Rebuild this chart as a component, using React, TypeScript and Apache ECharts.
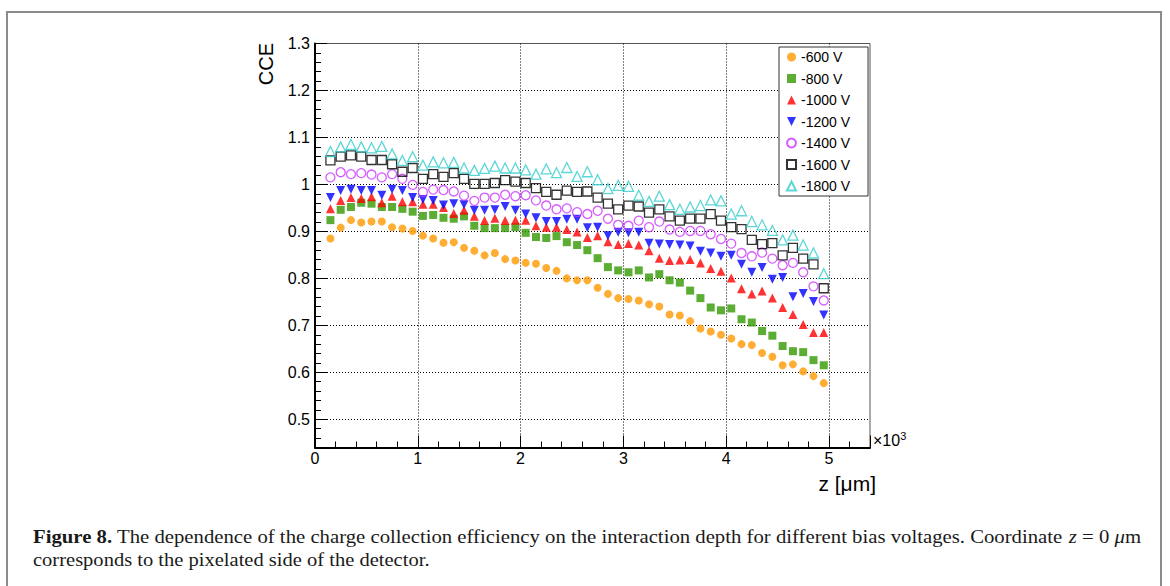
import React, { useEffect, useRef } from 'react';
import * as echarts from 'echarts';

// depth z in units of 10^3 um
const zValues = [
  0.15, 0.25, 0.35, 0.45, 0.55, 0.65, 0.75, 0.85, 0.95, 1.05,
  1.15, 1.25, 1.35, 1.45, 1.55, 1.65, 1.75, 1.85, 1.95, 2.05,
  2.15, 2.25, 2.35, 2.45, 2.55, 2.65, 2.75, 2.85, 2.95, 3.05,
  3.15, 3.25, 3.35, 3.45, 3.55, 3.65, 3.75, 3.85, 3.95, 4.05,
  4.15, 4.25, 4.35, 4.45, 4.55, 4.65, 4.75, 4.85, 4.95,
];

const cce600 = [
  0.885, 0.908, 0.924, 0.919, 0.921, 0.921, 0.909, 0.906, 0.901, 0.891,
  0.885, 0.876, 0.877, 0.865, 0.859, 0.849, 0.854, 0.841, 0.838, 0.833,
  0.831, 0.822, 0.816, 0.800, 0.796, 0.796, 0.780, 0.767, 0.758, 0.756,
  0.753, 0.745, 0.740, 0.723, 0.721, 0.709, 0.693, 0.687, 0.680, 0.672,
  0.660, 0.658, 0.641, 0.633, 0.615, 0.617, 0.602, 0.592, 0.577,
];
const cce800 = [
  0.924, 0.946, 0.952, 0.961, 0.959, 0.952, 0.952, 0.948, 0.942, 0.933,
  0.935, 0.929, 0.927, 0.932, 0.912, 0.907, 0.907, 0.907, 0.909, 0.897,
  0.888, 0.886, 0.890, 0.877, 0.871, 0.860, 0.843, 0.824, 0.817, 0.813,
  0.817, 0.802, 0.809, 0.796, 0.791, 0.774, 0.758, 0.738, 0.732, 0.736,
  0.713, 0.706, 0.688, 0.678, 0.656, 0.645, 0.643, 0.626, 0.615,
];
const cce1000 = [
  0.948, 0.966, 0.972, 0.970, 0.974, 0.961, 0.975, 0.963, 0.963, 0.958,
  0.958, 0.951, 0.938, 0.945, 0.932, 0.923, 0.928, 0.923, 0.924, 0.924,
  0.912, 0.909, 0.909, 0.904, 0.899, 0.887, 0.891, 0.878, 0.872, 0.874,
  0.871, 0.859, 0.843, 0.838, 0.839, 0.840, 0.833, 0.821, 0.815, 0.801,
  0.778, 0.767, 0.773, 0.758, 0.738, 0.723, 0.702, 0.685, 0.685,
];
const cce1200 = [
  0.972, 0.987, 0.990, 0.987, 0.987, 0.977, 0.990, 0.987, 0.972, 0.968,
  0.966, 0.956, 0.959, 0.957, 0.945, 0.945, 0.946, 0.953, 0.945, 0.937,
  0.929, 0.921, 0.921, 0.926, 0.926, 0.908, 0.909, 0.891, 0.898, 0.897,
  0.898, 0.875, 0.873, 0.872, 0.871, 0.869, 0.858, 0.854, 0.847, 0.849,
  0.830, 0.813, 0.823, 0.798, 0.802, 0.761, 0.768, 0.751, 0.722,
];
const cce1400 = [
  1.015, 1.026, 1.022, 1.024, 1.021, 1.015, 1.022, 1.012, 0.999, 0.984,
  0.989, 0.988, 0.985, 0.976, 0.965, 0.972, 0.972, 0.978, 0.975, 0.977,
  0.966, 0.955, 0.947, 0.949, 0.941, 0.937, 0.944, 0.927, 0.914, 0.912,
  0.923, 0.909, 0.921, 0.904, 0.899, 0.901, 0.901, 0.894, 0.884, 0.874,
  0.854, 0.847, 0.855, 0.842, 0.828, 0.833, 0.813, 0.783, 0.753,
];
const cce1600 = [
  1.051, 1.059, 1.062, 1.059, 1.052, 1.052, 1.043, 1.027, 1.035, 1.012,
  1.022, 1.016, 1.024, 1.012, 1.001, 1.001, 1.003, 1.009, 1.006, 1.003,
  0.992, 0.984, 0.978, 0.987, 0.984, 0.985, 0.972, 0.959, 0.947, 0.955,
  0.953, 0.940, 0.947, 0.932, 0.923, 0.927, 0.927, 0.937, 0.923, 0.909,
  0.905, 0.882, 0.873, 0.875, 0.849, 0.865, 0.842, 0.830, 0.779,
];
const cce1800 = [
  1.070, 1.080, 1.085, 1.080, 1.078, 1.081, 1.065, 1.051, 1.059, 1.041,
  1.048, 1.046, 1.047, 1.035, 1.030, 1.034, 1.039, 1.035, 1.035, 1.031,
  1.022, 1.033, 1.025, 1.036, 1.017, 1.027, 1.010, 0.991, 0.998, 0.996,
  0.977, 0.964, 0.975, 0.957, 0.947, 0.952, 0.955, 0.967, 0.965, 0.937,
  0.944, 0.921, 0.914, 0.902, 0.882, 0.892, 0.871, 0.854, 0.810,
];

const seriesNames = ['-600 V', '-800 V', '-1000 V', '-1200 V', '-1400 V', '-1600 V', '-1800 V'];
const seriesValues = [cce600, cce800, cce1000, cce1200, cce1400, cce1600, cce1800];
const seriesColors = ['#ff9900', '#339900', '#ff0000', '#0000ff', '#cc33ff', '#000000', '#33cccc'];
const seriesSymbols = ['circle', 'rect', 'triangle', 'triangle', 'circle', 'rect', 'triangle'];
const seriesRotate = [0, 0, 0, 180, 0, 0, 0];
const seriesFilled = [true, true, true, true, false, false, false];
const seriesSizes = [8, 8, 9, 9, 9, 9, 10];

const xAxisMin = 0;
const xAxisMax = 5.4;
const yAxisMin = 0.44;
const yAxisMax = 1.3;

const captionLine1 =
  '{b|Figure 8.} The dependence of the charge collection efficiency on the interaction depth for different bias voltages. Coordinate {i|z} = 0 {i|μ}m';
const captionLine2 = 'corresponds to the pixelated side of the detector.';

export default function App() {
  const ref = useRef<HTMLDivElement>(null);

  useEffect(() => {
    if (!ref.current) return;
    const chart = echarts.init(ref.current, null, { renderer: 'svg' });
    const sans = '"Liberation Sans", Arial, Helvetica, sans-serif';
    const serif = '"Liberation Serif", "Times New Roman", serif';

    const series: any[] = seriesNames.map((name, s) => ({
      type: 'scatter',
      name,
      data: zValues.map((z, i) => [z, seriesValues[s][i]]),
      symbol: seriesSymbols[s],
      symbolSize: seriesSizes[s],
      symbolRotate: seriesRotate[s],
      itemStyle: seriesFilled[s]
        ? { color: seriesColors[s] }
        : { color: 'rgba(255,255,255,0)', borderColor: seriesColors[s], borderWidth: 1.3 },
      emphasis: { disabled: true },
      xAxisIndex: 0,
      yAxisIndex: 0,
      z: 5,
    }));

    const legendData = seriesNames.map((name, s) =>
      seriesRotate[s] === 180 ? { name, icon: 'path://M0,0L10,0L5,10Z' } : { name }
    );

    const gridBox = { left: 315, top: 43.5, right: 300, bottom: 138.5 };

    chart.setOption({
      animation: false,
      backgroundColor: '#ffffff',
      textStyle: { fontFamily: sans },
      grid: {
        ...gridBox,
        show: true,
        borderColor: '#555555',
        borderWidth: 1,
        backgroundColor: 'rgba(0,0,0,0)',
        containLabel: false,
      },
      legend: {
        orient: 'vertical',
        left: 779,
        top: 47,
        padding: [3, 18, 3, 7],
        itemWidth: 9,
        itemHeight: 9,
        itemGap: 7.5,
        borderColor: '#333333',
        borderWidth: 1,
        backgroundColor: '#ffffff',
        textStyle: { fontFamily: sans, fontSize: 14, color: '#000000' },
        data: legendData,
      },
      xAxis: [
        {
          type: 'value',
          min: xAxisMin,
          max: xAxisMax,
          interval: 1,
          axisLine: { show: true, onZero: false, lineStyle: { color: '#000000', width: 2 } },
          axisTick: { show: true, inside: true, length: 12, lineStyle: { color: '#000000', width: 1 } },
          axisLabel: {
            show: true,
            margin: 3,
            fontSize: 16,
            color: '#000000',
            fontFamily: sans,
            formatter: (v: number) => (Math.abs(v - Math.round(v)) < 1e-6 ? String(Math.round(v)) : ''),
          },
          splitLine: {
            show: true,
            showMinLine: false,
            showMaxLine: false,
            lineStyle: { color: '#000000', width: 1, type: [1, 2] },
          },
        },
        {
          type: 'value',
          min: xAxisMin,
          max: xAxisMax,
          interval: 0.2,
          position: 'bottom',
          axisLine: { show: false },
          axisTick: { show: true, inside: true, length: 6, lineStyle: { color: '#000000', width: 1 } },
          axisLabel: { show: false },
          splitLine: { show: false },
        },
      ],
      yAxis: [
        {
          type: 'value',
          min: yAxisMin,
          max: yAxisMax,
          splitNumber: 9,
          axisLine: { show: true, onZero: false, lineStyle: { color: '#000000', width: 2 } },
          axisTick: { show: true, inside: true, length: 12, lineStyle: { color: '#000000', width: 1 } },
          axisLabel: {
            show: true,
            margin: 5,
            fontSize: 16,
            color: '#000000',
            fontFamily: sans,
            formatter: (v: number) => {
              if (Math.abs(v * 10 - Math.round(v * 10)) > 1e-6) return '';
              if (Math.abs(v - 1) < 1e-6) return '1';
              return v.toFixed(1);
            },
          },
          splitLine: {
            show: true,
            showMinLine: false,
            showMaxLine: false,
            lineStyle: { color: '#000000', width: 1, type: [1, 2] },
          },
        },
        {
          type: 'value',
          min: yAxisMin,
          max: yAxisMax,
          interval: 0.02,
          position: 'left',
          axisLine: { show: false },
          axisTick: { show: true, inside: true, length: 6, lineStyle: { color: '#000000', width: 1 } },
          axisLabel: { show: false },
          splitLine: { show: false },
        },
      ],
      series,
      graphic: [
        {
          type: 'rect',
          silent: true,
          shape: { x: 7, y: 12, width: 1154, height: 600 },
          style: { fill: 'none', stroke: '#8c8c8c', lineWidth: 2 },
          z: 0,
        },
        {
          type: 'text',
          silent: true,
          x: 266,
          y: 43,
          rotation: Math.PI / 2,
          style: {
            text: 'CCE',
            fontFamily: sans,
            fontSize: 20,
            fill: '#000000',
            align: 'right',
            verticalAlign: 'middle',
          },
        },
        {
          type: 'text',
          silent: true,
          x: 876,
          y: 483,
          style: {
            text: 'z [μm]',
            fontFamily: sans,
            fontSize: 21,
            fill: '#000000',
            align: 'right',
            verticalAlign: 'middle',
          },
        },
        {
          type: 'text',
          silent: true,
          x: 873,
          y: 440,
          style: {
            text: '×10{s|3}',
            fontFamily: sans,
            fontSize: 16,
            fill: '#000000',
            align: 'left',
            verticalAlign: 'middle',
            rich: { s: { fontSize: 11, fontFamily: sans, verticalAlign: 'top', padding: [0, 0, 9, 0] } },
          },
        },
        {
          type: 'text',
          silent: true,
          x: 33,
          y: 537,
          scaleX: 1.153,
          style: {
            text: captionLine1,
            fontFamily: serif,
            fontSize: 18,
            fill: '#1a1a1a',
            align: 'left',
            verticalAlign: 'middle',
            rich: {
              b: { fontFamily: serif, fontSize: 18, fontWeight: 'bold', fill: '#1a1a1a' },
              i: { fontFamily: serif, fontSize: 18, fontStyle: 'italic', fill: '#1a1a1a' },
            },
          },
        },
        {
          type: 'text',
          silent: true,
          x: 33,
          y: 560,
          scaleX: 1.14,
          style: {
            text: captionLine2,
            fontFamily: serif,
            fontSize: 18,
            fill: '#1a1a1a',
            align: 'left',
            verticalAlign: 'middle',
          },
        },
      ],
    });

    return () => {
      chart.dispose();
    };
  }, []);

  return (
    <div
      ref={ref}
      style={{ position: 'absolute', left: 0, top: 0, width: 1170, height: 586 }}
    />
  );
}
